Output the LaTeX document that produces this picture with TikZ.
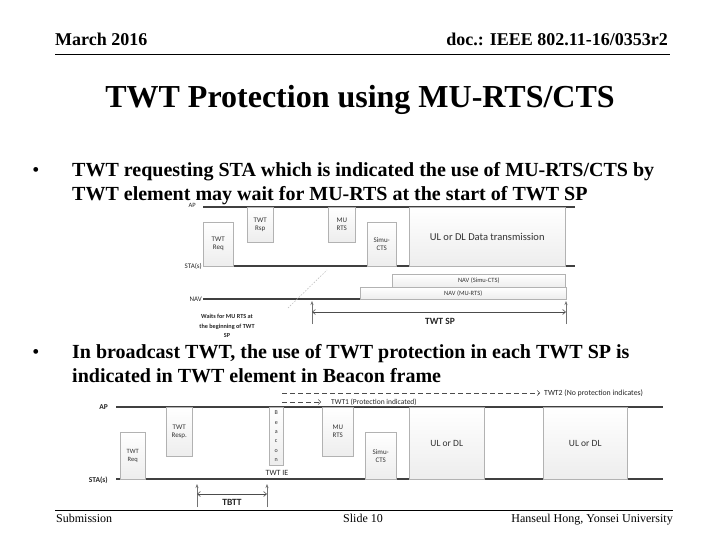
\documentclass[tikz,border=0pt]{standalone}
\usepackage{fontspec}
\setmainfont{Liberation Serif}
\newfontfamily\diag{Carlito}
\usetikzlibrary{arrows.meta}
\begin{document}
\begin{tikzpicture}[x=1pt,y=-1pt,
  frame/.style={draw=gray!60, line width=0.5pt, top color=white, bottom color=gray!14,
    inner sep=0pt, anchor=north west, align=center, text=black!80,
    font=\diag\fontsize{7}{8}\selectfont},
  tline/.style={draw=black!75, line width=1.6pt},
  small/.style={font=\diag\fontsize{7}{8}\selectfont, inner sep=0pt, text=black!85},
  smallb/.style={font=\diag\bfseries\fontsize{7.5}{8}\selectfont, inner sep=0pt, text=black!85},
  vline/.style={draw=black!55, line width=0.6pt, -{Stealth[length=4pt,width=3pt]}},
  span/.style={draw=black!70, line width=0.6pt, {Straight Barb[length=3pt,width=5pt]}-{Straight Barb[length=3pt,width=5pt]}},
  guide/.style={draw=black!70, line width=0.5pt, dash pattern=on 5pt off 3pt, -{Straight Barb[length=2.5pt,width=5pt]}},
  hdr/.style={font=\bfseries\fontsize{18}{20}\selectfont, inner sep=0pt},
  ftr/.style={font=\fontsize{12}{14}\selectfont, inner sep=0pt},
  body/.style={font=\bfseries\fontsize{20}{24}\selectfont, inner sep=0pt, anchor=base west}]
\useasboundingbox (0,0) rectangle (720,540);
\fill[white] (0,0) rectangle (720,540);

% header
\node[hdr, anchor=base west] (date) at (55,46) {March 2016};
\node[hdr, anchor=base east] (doc) at (668,46) {doc.: IEEE 802.11-16/0353r2};
\coordinate (hl) at (55,55); \coordinate (hr) at (670,55);
\draw[line width=1pt] (hl) -- (hr);

% title
\node[font=\bfseries\fontsize{32}{36}\selectfont, anchor=base, inner sep=0pt] (title) at (360,108) {TWT Protection using MU-RTS/CTS};

% bullets
\node[font=\fontsize{20}{24}\selectfont, anchor=base, inner sep=0pt] (dot1) at (36,177) {•};
\node[body] (b1a) at (72,177) {TWT requesting STA which is indicated the use of MU-RTS/CTS by};
\node[body] (b1b) at (72,201) {TWT element may wait for MU-RTS at the start of TWT SP};
\node[font=\fontsize{20}{24}\selectfont, anchor=base, inner sep=0pt] (dot2) at (36,358) {•};
\node[body] (b2a) at (72,358) {In broadcast TWT, the use of TWT protection in each TWT SP is};
\node[body] (b2b) at (72,382) {indicated in TWT element in Beacon frame};

% ---------- diagram 1 ----------
\coordinate (ap1l) at (203,207); \coordinate (ap1r) at (575,207);
\coordinate (st1l) at (203,266); \coordinate (st1r) at (575,266);
\coordinate (nv1l) at (203,299); \coordinate (nv1r) at (566,299);
\draw[tline] (ap1l) -- (ap1r);
\draw[tline] (st1l) -- (st1r);
\draw[tline, line width=1.3pt] (nv1l) -- (nv1r);
\node[small, anchor=east, font=\diag\fontsize{6.5}{7}\selectfont] (apl1) at (196,205) {AP};
\node[small, anchor=east] (stl1) at (202,266) {STA(s)};
\node[small, anchor=east] (nvl1) at (202,299) {NAV};

\node[frame, minimum width=30pt, minimum height=44pt] (req1) at (203,222) {TWT\\Req};
\node[frame, minimum width=26pt, minimum height=35pt] (rsp1) at (247,207) {TWT\\Rsp};
\node[frame, minimum width=27pt, minimum height=35pt] (rts1) at (328,207) {MU\\RTS};
\node[frame, minimum width=29pt, minimum height=44pt] (cts1) at (367,222) {Simu-\\CTS};
\node[frame, minimum width=156pt, minimum height=59pt, font=\diag\fontsize{10.5}{12}\selectfont] (data1) at (409,207) {UL or DL Data transmission};
\node[frame, minimum width=173pt, minimum height=13pt, font=\diag\fontsize{6.5}{7}\selectfont] (navc) at (392,274) {NAV (Simu-CTS)};
\node[frame, minimum width=206pt, minimum height=12pt, font=\diag\fontsize{6.5}{7}\selectfont] (navr) at (360,287) {NAV (MU-RTS)};

\coordinate (wa) at (288,308); \coordinate (wb) at (327,270);
\draw[gray!55, line width=0.5pt, dash pattern=on 1.5pt off 1.5pt] (wa) -- (wb);

\coordinate (s1b) at (312,324); \coordinate (s1t) at (312,301);
\coordinate (s2b) at (566,324); \coordinate (s2t) at (566,301);
\draw[vline] (s1b) -- (s1t);
\draw[vline] (s2b) -- (s2t);
\coordinate (spl) at (312,312); \coordinate (spr) at (566,312);
\draw[span] (spl) -- (spr);
\node[font=\diag\bfseries\fontsize{9.5}{10}\selectfont, inner sep=0pt, text=black!85] (sp) at (440,321) {TWT SP};
\node[font=\diag\bfseries\fontsize{6.2}{9.5}\selectfont, inner sep=0pt, align=center, text=black!85] (wait) at (227,326) {Waits for MU RTS at\\the beginning of TWT\\SP};

% ---------- diagram 2 ----------
\coordinate (ap2l) at (116,407); \coordinate (ap2r) at (663,407);
\coordinate (st2l) at (116,479); \coordinate (st2r) at (663,479);
\draw[tline, line width=1.3pt] (ap2l) -- (ap2r);
\draw[tline, line width=1.3pt] (st2l) -- (st2r);
\node[smallb, anchor=east] (apl2) at (108,407) {AP};
\node[smallb, anchor=east] (stl2) at (108,480) {STA(s)};

\node[frame, minimum width=25pt, minimum height=47pt, font=\diag\fontsize{6.5}{8}\selectfont] (req2) at (120,432) {TWT\\Req};
\node[frame, minimum width=26pt, minimum height=49pt] (rsp2) at (166,407) {TWT\\Resp.};
\node[frame, minimum width=14pt, minimum height=58pt, font=\diag\fontsize{6}{9.3}\selectfont] (bcn) at (269,407) {B\\e\\a\\c\\o\\n};
\node[small, font=\diag\fontsize{8}{9}\selectfont] (ie) at (277,473) {TWT IE};
\node[frame, minimum width=31pt, minimum height=49pt] (rts2) at (322,407) {MU\\RTS};
\node[frame, minimum width=31pt, minimum height=47pt] (cts2) at (365,432) {Simu-\\CTS};
\node[frame, minimum width=75pt, minimum height=72pt, font=\diag\fontsize{9.5}{11}\selectfont] (ul1) at (409,407) {UL or DL};
\node[frame, minimum width=84pt, minimum height=72pt, font=\diag\fontsize{9.5}{11}\selectfont] (ul2) at (543,407) {UL or DL};

\coordinate (g2a) at (282,393); \coordinate (g2b) at (540,393);
\coordinate (g1a) at (282,402); \coordinate (g1b) at (321,402);
\draw[guide] (g2a) -- (g2b);
\draw[guide] (g1a) -- (g1b);
\node[small, font=\diag\fontsize{7.8}{9}\selectfont, anchor=west] (twt2) at (544,393) {TWT2 (No protection indicates)};
\node[small, font=\diag\fontsize{7.5}{9}\selectfont, anchor=west] (twt1) at (331,402) {TWT1 (Protection indicated)};

\coordinate (t1b) at (197,507); \coordinate (t1t) at (197,484);
\coordinate (t2b) at (267,507); \coordinate (t2t) at (267,484);
\draw[vline] (t1b) -- (t1t);
\draw[vline] (t2b) -- (t2t);
\coordinate (tbl) at (197,494); \coordinate (tbr) at (267,494);
\draw[span] (tbl) -- (tbr);
\node[font=\diag\bfseries\fontsize{9.5}{10}\selectfont, inner sep=0pt, text=black!85] (tbtt) at (232,502) {TBTT};

% footer
\coordinate (fl) at (55,510); \coordinate (fr) at (673,510);
\draw[line width=1pt] (fl) -- (fr);
\node[ftr, anchor=base west] (sub) at (56,522) {Submission};
\node[ftr, anchor=base] (slide) at (363,522) {Slide 10};
\node[ftr, anchor=base east] (auth) at (673,522) {Hanseul Hong, Yonsei University};
\end{tikzpicture}
\end{document}
